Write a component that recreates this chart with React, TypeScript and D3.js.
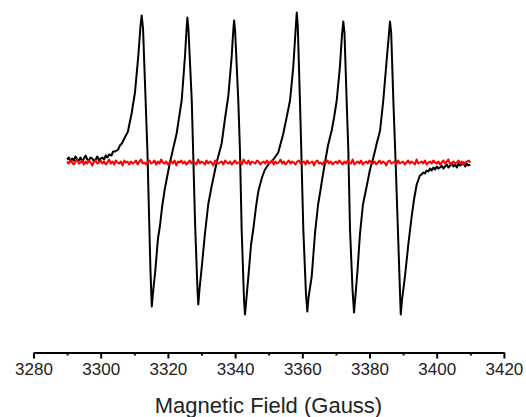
import React, { useEffect, useRef } from 'react';
import * as d3 from 'd3';

// field axis
const fieldTicks = [3280, 3300, 3320, 3340, 3360, 3380, 3400, 3420];
const minorTicks = [3290, 3310, 3330, 3350, 3370, 3390, 3410];
const axisTitle = 'Magnetic Field (Gauss)';

// black spectrum, [field (G), signal (a.u.)]
const spectrum: [number, number][] = [
  [3290.0, 3], [3290.5, 5], [3291.0, 1], [3291.5, 4], [3292.0, 2], [3292.5, 6], [3293.0, 3],
  [3293.5, 2], [3294.0, 5], [3294.5, 1], [3295.0, 4], [3295.5, 7], [3296.0, 3], [3296.5, 2],
  [3297.0, 5], [3297.5, 4], [3298.0, 1], [3298.5, 3], [3299.0, 6], [3299.5, 2], [3300.0, 4],
  [3300.5, 5], [3301.0, 3], [3301.5, 7], [3302.0, 5], [3302.5, 8], [3303.2, 7], [3303.7, 11],
  [3304.3, 11], [3305.2, 13], [3305.7, 17], [3306.3, 19], [3307.2, 25], [3308.1, 31],
  [3309.2, 49], [3310.2, 70], [3311.2, 107], [3311.85, 137], [3312.2, 147], [3312.6, 134],
  [3313.9, 12], [3314.8, -107], [3315.2, -144], [3315.6, -129], [3316.2, -110], [3317.05, -76],
  [3317.65, -63], [3318.25, -45], [3319.1, -26], [3320.6, 0], [3322.6, 29], [3324.1, 62],
  [3325.1, 107], [3325.55, 134], [3325.8, 145], [3326.1, 134], [3327.1, 62], [3328.1, -62],
  [3328.8, -127], [3329.05, -142], [3329.4, -127], [3330.15, -102], [3331.0, -72], [3332.0, -42],
  [3333.0, -24], [3334.5, 0], [3336.0, 19], [3337.0, 44], [3338.0, 67], [3339.0, 107],
  [3339.45, 132], [3339.7, 142], [3340.0, 132], [3340.95, 62], [3341.45, 12], [3341.95, -67],
  [3342.65, -137], [3342.95, -152], [3343.35, -137], [3343.95, -114], [3344.75, -82],
  [3345.4, -67], [3346.2, -45], [3346.9, -29], [3348.0, -15], [3348.9, -7], [3350.1, -1],
  [3351.4, 3], [3352.85, 10], [3354.35, 29], [3355.45, 47], [3356.35, 62], [3357.3, 95],
  [3358.0, 132], [3358.35, 150], [3358.65, 137], [3359.3, 62], [3359.7, 12], [3360.3, -67],
  [3361.1, -132], [3361.5, -149], [3361.85, -135], [3362.8, -114], [3363.8, -70], [3364.7, -42],
  [3365.3, -30], [3365.9, -17], [3366.75, 0], [3367.65, 17], [3368.75, 32], [3369.45, 45],
  [3370.25, 62], [3371.2, 96], [3371.8, 127], [3372.2, 141], [3372.55, 130], [3373.2, 62],
  [3373.7, 12], [3374.2, -67], [3374.95, -127], [3375.4, -150], [3375.85, -132], [3376.45, -107],
  [3377.15, -72], [3378.05, -42], [3379.15, -24], [3380.15, -7], [3381.15, 5], [3382.15, 19],
  [3383.15, 32], [3384.1, 62], [3385.1, 102], [3385.75, 127], [3386.1, 141], [3386.45, 130],
  [3387.1, 62], [3387.9, -12], [3388.6, -82], [3389.1, -132], [3389.3, -152], [3389.7, -137],
  [3390.55, -114], [3391.55, -82], [3392.55, -54], [3393.25, -37], [3394.05, -22], [3395.0, -13],
  [3395.5, -12], [3396.0, -10], [3396.5, -11], [3397.0, -8], [3397.5, -9], [3398.0, -6],
  [3398.5, -8], [3399.0, -5], [3399.5, -7], [3400.0, -4], [3400.5, -6], [3401.0, -5],
  [3401.5, -3], [3402.0, -6], [3402.5, -4], [3403.0, -2], [3403.5, -5], [3404.0, -3],
  [3404.5, -1], [3405.0, -4], [3405.5, -2], [3406.0, -5], [3406.5, -1], [3407.0, -3],
  [3407.5, -2], [3408.0, 0], [3408.5, -4], [3408.9, -1], [3409.5, -3], [3410.0, -2],
];

// red trace, regular field sweep
const redStart = 3290;
const redStep = 0.5;
const redSignal = [
  1, -1, 2, 0, -2, 1, 3, -1, 0, 2, -2, 1, -1, 2, 0, -3, 1, 2, -1, 0,
  2, -1, 1, -2, 0, 3, -1, 1, -2, 2, 0, -1, 1, -3, 2, 0, 1, -2, 1, -1,
  0, 2, -2, 1, 3, -1, 0, -2, 1, 2, -1, 0, 2, -2, 1, -1, 3, 0, -1, 1,
  -2, 0, 1, -1, 2, -3, 1, 0, 2, -1, 1, -2, 0, 2, -1, 1, 0, -2, 3, -1,
  1, 0, -2, 2, -1, 1, 0, -3, 2, 1, -1, 0, 1, -2, 2, 0, -1, 1, -2, 0,
  2, -1, 0, 1, -2, 3, 0, -1, 2, -2, 1, 0, -1, 2, 1, -2, 0, 1, -1, 2,
  -1, 0, 2, -2, 1, -1, 0, 3, -1, 1, -2, 0, 2, -1, 1, 0, -2, 1, 2, -1,
  0, 1, -2, 2, -1, 0, 1, -3, 1, 2, -1, 0, -2, 1, 0, 2, -1, 1, -2, 0,
  1, -1, 2, 0, -2, 1, -1, 2, 0, -1, 3, -2, 0, 1, -1, 2, -2, 0, 1, -1,
  2, 0, -1, 1, -2, 0, 2, -1, 1, 0, -3, 1, 2, -1, 0, 1, -2, 2, -1, 0,
  1, -2, 0, 2, -1, 1, 0, -2, 3, -1, 0, 1, -1, 2, -2, 0, 1, -1, 2, 0,
  -1, 1, -2, 0, 2, -1, 1, 3, -2, 0, 1, -1, 0, 2, -1, 1, -2, 0, 1, 2,
  0,
];

export default function App() {
  const ref = useRef<SVGSVGElement>(null);

  useEffect(() => {
    const svg = d3.select(ref.current);
    svg.selectAll('*').remove();

    const x = d3.scaleLinear().domain([3280, 3420]).range([33.5, 503.9]);
    const y = d3.scaleLinear().domain([-160, 160]).range([322.5, 2.5]);

    const line = d3.line<[number, number]>()
      .x(d => x(d[0]))
      .y(d => y(d[1]));

    svg.append('path')
      .datum(spectrum)
      .attr('d', line)
      .attr('fill', 'none')
      .attr('stroke', '#000')
      .attr('stroke-width', 2)
      .attr('stroke-linejoin', 'round');

    const red: [number, number][] = redSignal.map((v, i) => [redStart + i * redStep, v]);
    svg.append('path')
      .datum(red)
      .attr('d', line)
      .attr('fill', 'none')
      .attr('stroke', '#ff0000')
      .attr('stroke-width', 2)
      .attr('stroke-linejoin', 'round');

    // axis
    const axisY = 352.5;
    const major = svg.append('g')
      .attr('transform', `translate(0,${axisY})`)
      .call(d3.axisBottom(x).tickValues(fieldTicks).tickSize(6).tickSizeOuter(0).tickPadding(4).tickFormat(d3.format('d')));
    major.select('.domain').attr('stroke', '#000').attr('stroke-width', 2);
    major.selectAll('.tick line').attr('stroke', '#000').attr('stroke-width', 2);
    major.selectAll('.tick text')
      .attr('fill', '#222')
      .style('font-family', 'Arial, "Liberation Sans", sans-serif')
      .style('font-size', '17px');

    const minor = svg.append('g')
      .attr('transform', `translate(0,${axisY})`)
      .call(d3.axisBottom(x).tickValues(minorTicks).tickSize(3).tickSizeOuter(0).tickFormat(() => ''));
    minor.select('.domain').remove();
    minor.selectAll('.tick line').attr('stroke', '#000').attr('stroke-width', 2);

    svg.append('text')
      .attr('x', 268.5)
      .attr('y', 413)
      .attr('text-anchor', 'middle')
      .attr('fill', '#222')
      .style('font-family', 'Arial, "Liberation Sans", sans-serif')
      .style('font-size', '22px')
      .text(axisTitle);
  }, []);

  return (
    <svg ref={ref} width={526} height={417}
      style={{ position: 'absolute', left: 0, top: 0, background: '#fff' }} />
  );
}
